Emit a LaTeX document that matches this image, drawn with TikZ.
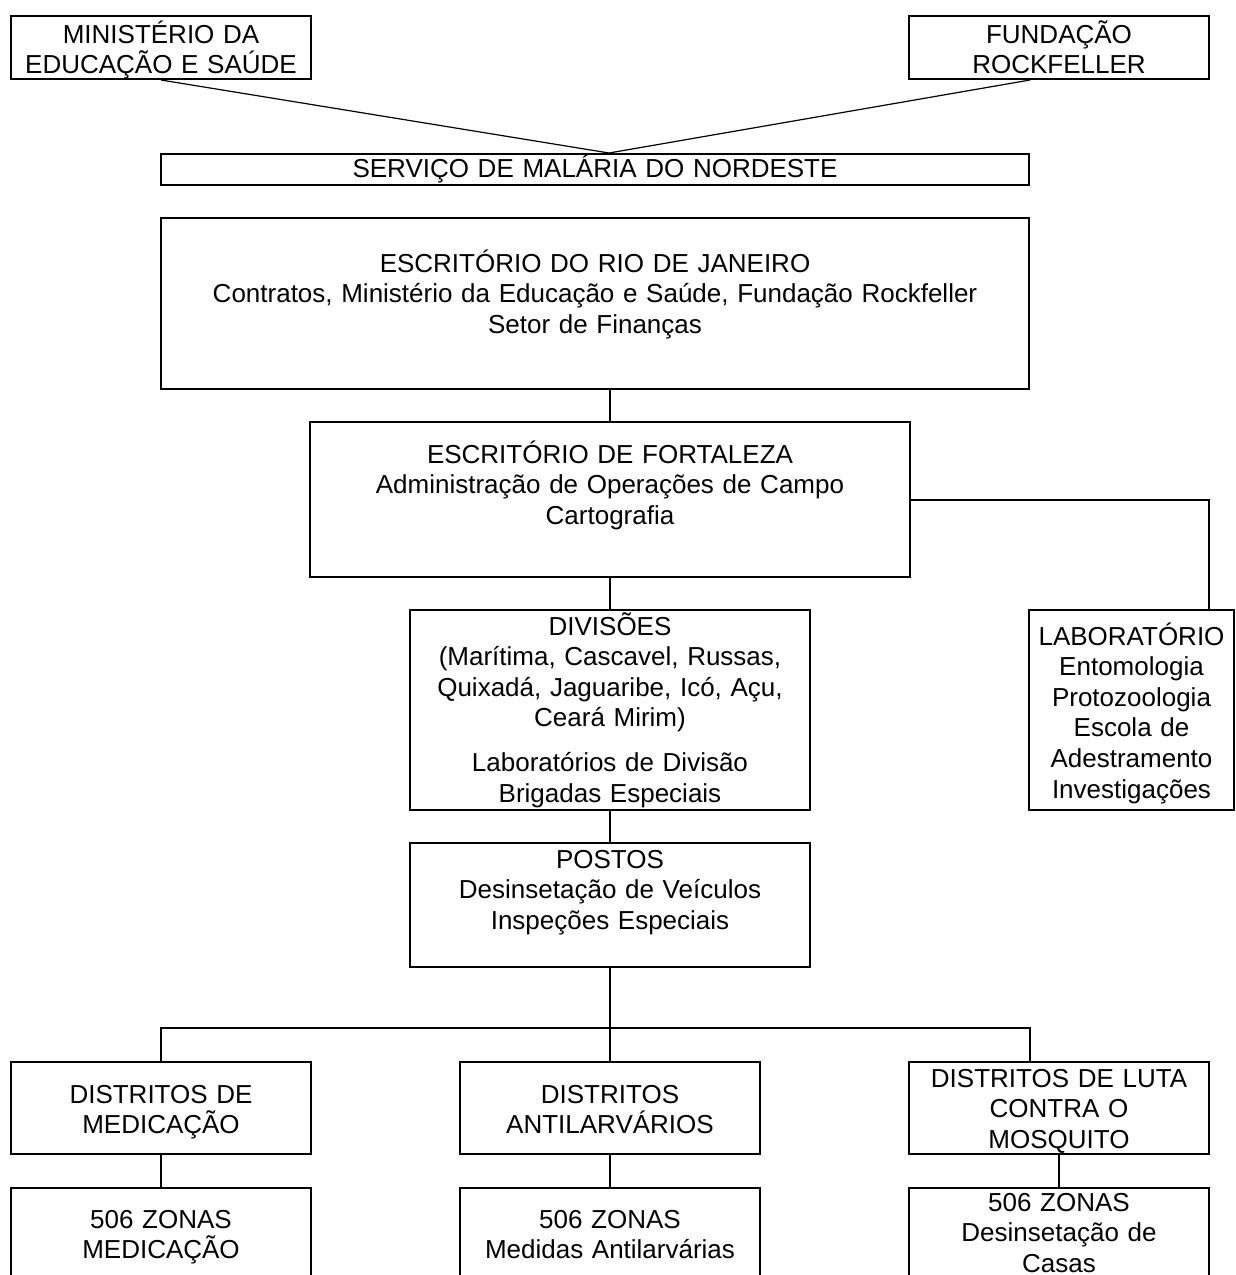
\documentclass[tikz,border=0pt]{standalone}
\usepackage{fontspec}
\setmainfont{Liberation Sans}
\usetikzlibrary{calc}
\tikzset{
  cell/.style n args={3}{draw, line width=2pt, inner sep=0pt, anchor=north west,
    align=center, text width=#1pt, text height=#2pt, text depth=#3pt,
    font=\fontsize{26}{30.6}\selectfont},
  link/.style={line width=2pt},
  slant/.style={line width=1.2pt}
}
\begin{document}
\begin{tikzpicture}[x=1pt,y=-1pt]
\useasboundingbox (0,0) rectangle (1235,1275);
\clip (0,0) rectangle (1235,1275);
% sponsors and service
\node[cell={300}{27}{36}] (min) at (10,15) {MINISTÉRIO DA\\EDUCAÇÃO E SAÚDE};
\node[cell={300}{27}{36}] (fund) at (908,15) {FUNDAÇÃO\\ROCKFELLER};
\node[cell={868}{23}{8}] (serv) at (160,153) {SERVIÇO DE MALÁRIA DO NORDESTE};
\node[cell={868}{54}{117}] (rio) at (160,217) {ESCRITÓRIO DO RIO DE JANEIRO\\Contratos, Ministério da Educação e Saúde, Fundação Rockfeller\\Setor de Finanças};
\node[cell={600}{41}{114}] (fort) at (309,421) {ESCRITÓRIO DE FORTALEZA\\Administração de Operações de Campo\\Cartografia};
% middle level
\node[cell={400}{25}{175}] (div) at (409,609) {DIVISÕES\\(Marítima, Cascavel, Russas,\\Quixadá, Jaguaribe, Icó, Açu,\\Ceará Mirim)\\[14pt]Laboratórios de Divisão\\Brigadas Especiais};
\node[cell={205}{35}{165}] (lab) at (1028,609) {LABORATÓRIO\\Entomologia\\Protozoologia\\Escola de\\Adestramento\\Investigações};
\node[cell={400}{25}{99}] (postos) at (409,842) {POSTOS\\Desinsetação de Veículos\\Inspeções Especiais};
% districts
\node[cell={300}{41}{51}] (dmed) at (10,1061) {DISTRITOS DE\\MEDICAÇÃO};
\node[cell={300}{41}{51}] (dant) at (459,1061) {DISTRITOS\\ANTILARVÁRIOS};
\node[cell={300}{25}{67}] (dluta) at (908,1061) {DISTRITOS DE LUTA\\CONTRA O\\MOSQUITO};
% zones (cut off at the bottom)
\node[cell={300}{40}{73}] (zmed) at (10,1187) {506 ZONAS\\MEDICAÇÃO};
\node[cell={300}{40}{73}] (zant) at (459,1187) {506 ZONAS\\Medidas Antilarvárias};
\node[cell={300}{23}{90}] (zluta) at (908,1187) {506 ZONAS\\Desinsetação de\\Casas};
% connectors
\coordinate (meet) at ([xshift=14pt]serv.north);
\draw[slant] (min.south) -- (meet);
\draw[slant] (fund.south -| serv.east) -- (meet);
\draw[link] (rio.south -| fort.north) -- (fort.north);
\draw[link] (fort.east) -| ([xshift=-26pt]lab.north east);
\draw[link] (fort.south) -- (div.north);
\draw[link] (div.south) -- (postos.north);
\coordinate (bus) at (609,1028);
\draw[link] (postos.south) -- (dant.north);
\draw[link] (dmed.north) |- (bus) -| (dluta.north -| serv.east);
\draw[link] (dmed.south) -- (zmed.north);
\draw[link] (dant.south) -- (zant.north);
\draw[link] (dluta.south) -- (zluta.north);
\end{tikzpicture}
\end{document}
